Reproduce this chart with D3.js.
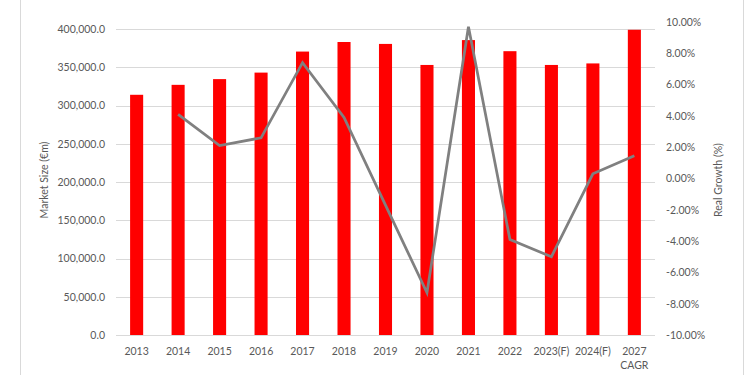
<!DOCTYPE html>
<html>
<head>
<meta charset="utf-8">
<script src="https://cdn.jsdelivr.net/npm/d3@7"></script>
<style>
  body { margin: 0; background: #fff; }
  svg { display: block; }
</style>
</head>
<body>
<div id="chart"></div>
<script>
// chart data
var years = ["2013", "2014", "2015", "2016", "2017", "2018", "2019", "2020", "2021", "2022", "2023(F)", "2024(F)", "2027\nCAGR"];
var marketSize = [314000, 327000, 334500, 343000, 370500, 383000, 380500, 353000, 385500, 371000, 353000, 355000, 399000];
var realGrowth = [null, 4.1, 2.1, 2.6, 7.4, 3.9, -1.7, -7.3, 9.7, -3.9, -5.0, 0.3, 1.45];
var leftTicks = [0, 50000, 100000, 150000, 200000, 250000, 300000, 350000, 400000];
var rightTicks = [-10, -8, -6, -4, -2, 0, 2, 4, 6, 8, 10];

var width = 750, height = 375;
var font = "Lato, 'Open Sans', sans-serif";
var textColour = "#595959";

var svg = d3.select("#chart")
    .append("svg")
    .attr("width", width)
    .attr("height", height);

// frame lines left and right
svg.append("line").attr("x1", 20.5).attr("x2", 20.5).attr("y1", 0).attr("y2", height)
    .style("stroke", "#d9d9d9");
svg.append("line").attr("x1", 743.5).attr("x2", 743.5).attr("y1", 0).attr("y2", height)
    .style("stroke", "#d9d9d9");

var x = d3.scaleBand()
    .domain(years)
    .range([116, 655])
    .paddingInner(0.685)
    .paddingOuter(0.34);

// top of the left axis (450,000) sits just above the picture
var yLeft = d3.scaleLinear()
    .domain([0, 450000])
    .range([335, -9.25]);

var yRight = d3.scaleLinear()
    .domain([-10, 10])
    .range([335, 22]);

// gridlines
svg.append("g")
    .selectAll("line")
    .data(leftTicks)
    .enter()
    .append("line")
    .attr("x1", 116)
    .attr("x2", 655)
    .attr("y1", function (d) { return Math.round(yLeft(d)) + 0.5; })
    .attr("y2", function (d) { return Math.round(yLeft(d)) + 0.5; })
    .style("stroke", "#d9d9d9");

// left axis
var leftAxis = svg.append("g")
    .attr("transform", "translate(105,0)")
    .call(d3.axisLeft(yLeft).tickValues(leftTicks).tickSize(0).tickPadding(0)
        .tickFormat(function (d) { return d3.format(",.1f")(d); }));
leftAxis.select(".domain").remove();
leftAxis.selectAll("text")
    .style("font-family", font)
    .style("font-size", "10.5px")
    .style("fill", textColour);

// right axis
var rightAxis = svg.append("g")
    .attr("transform", "translate(666,0)")
    .call(d3.axisRight(yRight).tickValues(rightTicks).tickSize(0).tickPadding(0)
        .tickFormat(function (d) { return d.toFixed(2) + "%"; }));
rightAxis.select(".domain").remove();
rightAxis.selectAll("text")
    .style("font-family", font)
    .style("font-size", "10.5px")
    .style("fill", textColour);

// bars
svg.append("g")
    .selectAll("rect")
    .data(years)
    .enter()
    .append("rect")
    .attr("x", function (d) { return x(d); })
    .attr("width", x.bandwidth())
    .attr("y", function (d, i) { return yLeft(marketSize[i]); })
    .attr("height", function (d, i) { return yLeft(0) - yLeft(marketSize[i]); })
    .style("fill", "#ff0000");

// growth line
var line = d3.line()
    .defined(function (d) { return d.v != null; })
    .x(function (d) { return x(d.year) + x.bandwidth() / 2; })
    .y(function (d) { return yRight(d.v); });

svg.append("path")
    .datum(years.map(function (y, i) { return {year: y, v: realGrowth[i]}; }))
    .attr("d", line)
    .style("fill", "none")
    .style("stroke", "#808080")
    .style("stroke-width", 2.75)
    .style("stroke-linejoin", "miter");

// category labels
var labels = svg.append("g")
    .selectAll("text")
    .data(years)
    .enter()
    .append("text")
    .attr("x", function (d) { return x(d) + x.bandwidth() / 2; })
    .attr("y", 355)
    .attr("text-anchor", "middle")
    .style("font-family", font)
    .style("font-size", "10.5px")
    .style("fill", textColour);
labels.each(function (d) {
    var parts = d.split("\n");
    var t = d3.select(this);
    parts.forEach(function (p, k) {
        t.append("tspan")
            .attr("x", t.attr("x"))
            .attr("dy", k === 0 ? 0 : 14)
            .text(p);
    });
});

// axis titles
svg.append("text")
    .attr("transform", "translate(48,180) rotate(-90)")
    .attr("text-anchor", "middle")
    .style("font-family", font)
    .style("font-size", "10.5px")
    .style("fill", textColour)
    .text("Market Size (€m)");

svg.append("text")
    .attr("transform", "translate(722,180) rotate(-90)")
    .attr("text-anchor", "middle")
    .style("font-family", font)
    .style("font-size", "10.5px")
    .style("fill", textColour)
    .text("Real Growth (%)");
</script>
</body>
</html>
